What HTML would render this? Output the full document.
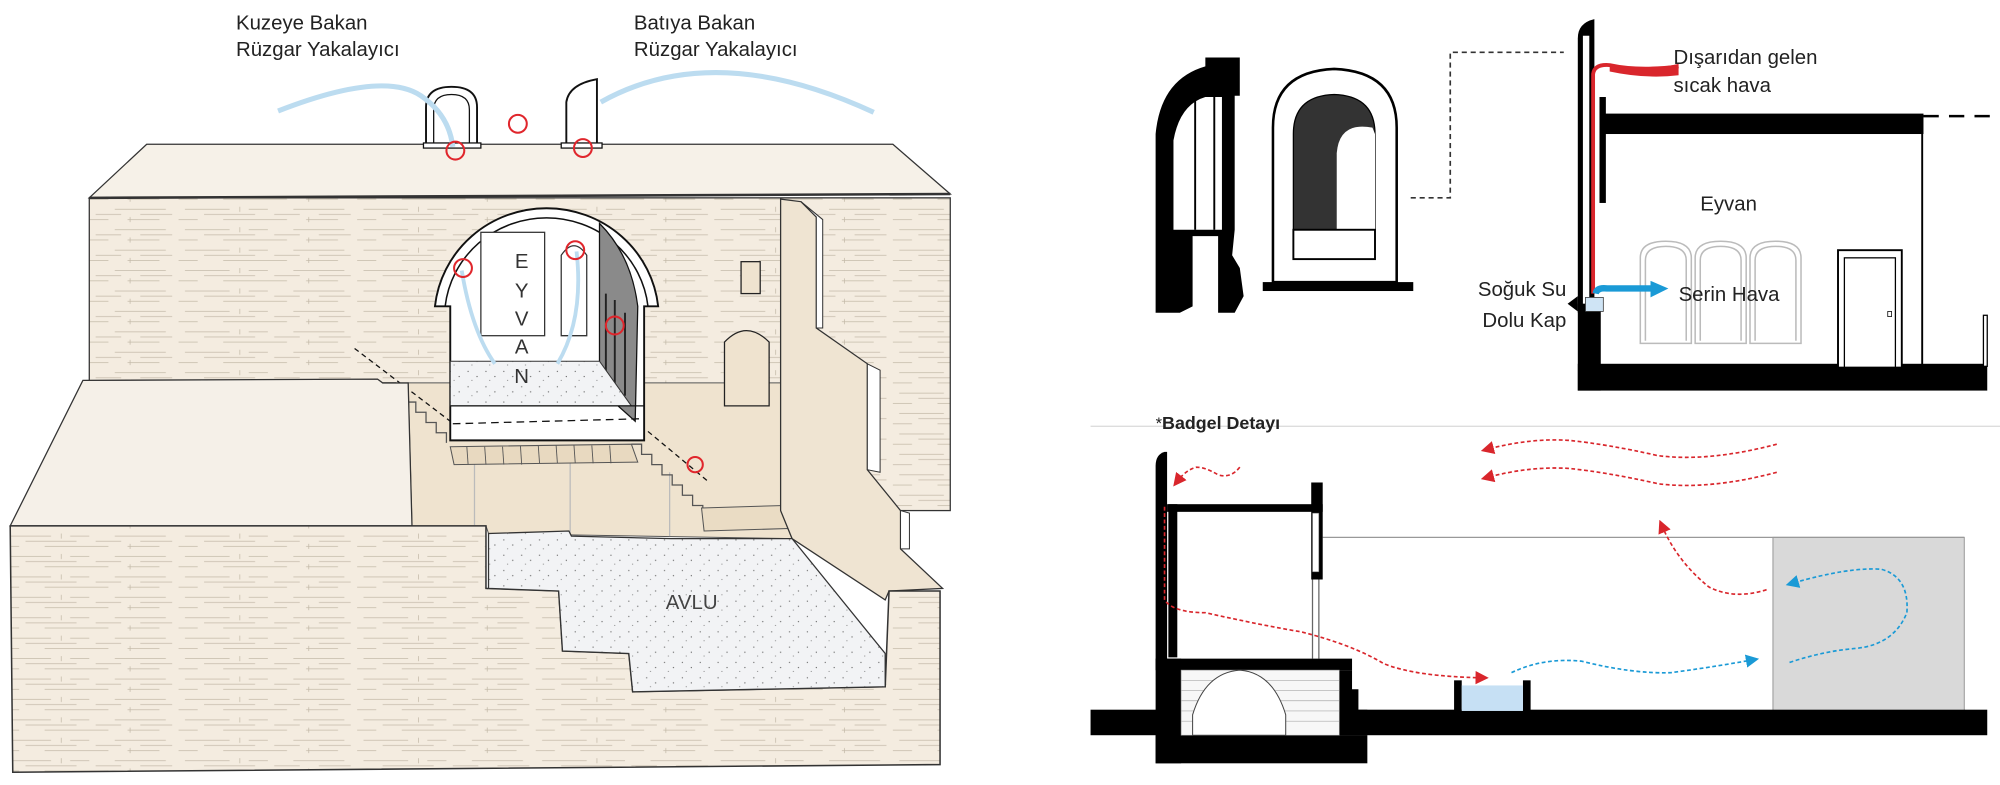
<!DOCTYPE html>
<html><head><meta charset="utf-8"><style>
html,body{margin:0;padding:0;background:#fff;}
svg{display:block;}
text{font-family:"Liberation Sans",sans-serif;}
</style></head><body>
<svg width="2000" height="785" viewBox="0 0 1568 615" preserveAspectRatio="none" xmlns="http://www.w3.org/2000/svg">
<defs>
<pattern id="brick" width="140" height="16" patternUnits="userSpaceOnUse">
<rect width="140" height="16" fill="#f4ece0"/>
<g stroke="#c4baa9" stroke-width="0.6">
<line x1="5" y1="4" x2="40" y2="4"/><line x1="55" y1="4" x2="70" y2="4"/><line x1="90" y1="4" x2="130" y2="4"/>
<line x1="20" y1="8" x2="60" y2="8"/><line x1="75" y1="8" x2="95" y2="8"/><line x1="110" y1="8" x2="135" y2="8"/>
<line x1="0" y1="12" x2="15" y2="12"/><line x1="35" y1="12" x2="85" y2="12"/><line x1="100" y1="12" x2="125" y2="12"/>
<line x1="48" y1="2" x2="48" y2="6"/><line x1="102" y1="10" x2="102" y2="14"/>
</g></pattern>
<pattern id="dots" width="14" height="12" patternUnits="userSpaceOnUse">
<rect width="14" height="12" fill="#f2f3f5"/>
<circle cx="3" cy="3" r="0.5" fill="#666"/><circle cx="10" cy="7" r="0.5" fill="#666"/><circle cx="6" cy="10" r="0.4" fill="#666"/>
</pattern>
<marker id="ar" markerWidth="8" markerHeight="8" refX="4" refY="4" orient="auto"><path d="M0,0 L8,4 L0,8 Z" fill="#d9262c"/></marker>
<marker id="ab" markerWidth="8" markerHeight="8" refX="4" refY="4" orient="auto"><path d="M0,0 L8,4 L0,8 Z" fill="#1a9ad6"/></marker>
</defs>

<text x="185" y="23" font-size="16" fill="#222">Kuzeye Bakan</text>
<text x="185" y="44" font-size="16" fill="#222">Rüzgar Yakalayıcı</text>
<text x="497" y="23" font-size="16" fill="#222">Batıya Bakan</text>
<text x="497" y="44" font-size="16" fill="#222">Rüzgar Yakalayıcı</text>

<polygon points="70,155 115,113 700,113 745,152" fill="#f6f1e8" stroke="#333" stroke-width="1"/>
<rect x="70" y="155" width="675" height="245" fill="url(#brick)" stroke="#333" stroke-width="1"/>
<line x1="70" y1="155" x2="745" y2="152" stroke="#333" stroke-width="2"/>

<path d="M334,114 L334,84 Q334,68 354,68 Q374,68 374,84 L374,114 Z" fill="#fff" stroke="#111" stroke-width="1.5"/>
<path d="M340,114 L340,86 Q340,74 354,74 Q368,74 368,86 L368,114" fill="none" stroke="#111" stroke-width="1"/>
<rect x="332" y="112" width="45" height="4" fill="#fff" stroke="#111"/>
<path d="M444,114 L444,80 Q446,66 468,62 L468,114 Z" fill="#fff" stroke="#111" stroke-width="1.5"/>
<rect x="440" y="112" width="32" height="4" fill="#fff" stroke="#111"/>
<path d="M218,87 Q300,55 330,75 Q352,90 355,115" fill="none" stroke="#bcdcf0" stroke-width="4"/>
<path d="M471,80 Q560,30 685,88" fill="none" stroke="#bcdcf0" stroke-width="4"/>
<g fill="none" stroke="#e0262c" stroke-width="1.6">
<circle cx="357" cy="118" r="7"/><circle cx="406" cy="97" r="7"/><circle cx="457" cy="116" r="7"/>
</g>

<polygon points="320,300 612,300 612,400 621,422 383,418 381,412 323,412" fill="#efe3cf" stroke="#555" stroke-width="0.8"/>
<line x1="372" y1="360" x2="372" y2="418" stroke="#bbb"/><line x1="447" y1="360" x2="447" y2="418" stroke="#bbb"/><line x1="525" y1="370" x2="525" y2="420" stroke="#bbb"/>

<path d="M341,240 A88,86 0 0 1 516,240 L505,240 L505,345 L353,345 L353,240 Z" fill="#fff" stroke="#111" stroke-width="1.5"/>
<path d="M349,240 A80,78 0 0 1 508,240" fill="none" stroke="#111" stroke-width="1.2"/>
<path d="M470,175 Q495,200 500,240 L498,330 L470,305 Z" fill="#8a8a8a" stroke="#111"/>
<rect x="377" y="182" width="50" height="81" fill="#fff" stroke="#333"/>
<path d="M440,263 L440,200 Q450,185 460,200 L460,263 Z" fill="#fff" stroke="#333"/>
<path d="M475,300 L475,230 M482,300 L482,235 M490,310 L490,245" stroke="#222" stroke-width="1.5"/>
<polygon points="353,283 470,283 495,318 353,318" fill="url(#dots)" stroke="#333" stroke-width="0.8"/>
<line x1="353" y1="318" x2="505" y2="318" stroke="#111"/>
<line x1="355" y1="332" x2="505" y2="328" stroke="#111" stroke-dasharray="6,4"/>
<g font-size="16" fill="#333" text-anchor="middle">
<text x="409" y="210">E</text><text x="409" y="233">Y</text><text x="409" y="255">V</text><text x="409" y="277">A</text><text x="409" y="300">N</text>
</g>
<path d="M362,212 Q370,260 388,285" fill="none" stroke="#bcdcf0" stroke-width="3"/>
<path d="M452,197 Q458,250 437,285" fill="none" stroke="#bcdcf0" stroke-width="3"/>
<line x1="278" y1="273" x2="353" y2="330" stroke="#111" stroke-dasharray="4,3"/>
<line x1="508" y1="338" x2="555" y2="377" stroke="#111" stroke-dasharray="4,3"/>
<g fill="none" stroke="#e0262c" stroke-width="1.6">
<circle cx="363" cy="210" r="7"/><circle cx="451" cy="196" r="7"/><circle cx="482" cy="255" r="7"/><circle cx="545" cy="364" r="6"/>
</g>
<polygon points="353,350 495,348 500,362 356,364" fill="#e8d9c0" stroke="#555" stroke-width="0.8"/>
<g stroke="#555" stroke-width="0.7">
<line x1="366" y1="350" x2="367" y2="364"/><line x1="380" y1="350" x2="381" y2="364"/><line x1="394" y1="350" x2="395" y2="364"/><line x1="408" y1="349" x2="409" y2="364"/><line x1="422" y1="349" x2="423" y2="363"/><line x1="436" y1="349" x2="437" y2="363"/><line x1="450" y1="349" x2="451" y2="363"/><line x1="464" y1="349" x2="465" y2="363"/><line x1="478" y1="349" x2="479" y2="363"/>
</g>
<path d="M300,300 L310,300 L310,307 L318,307 L318,315 L326,315 L326,323 L334,323 L334,331 L342,331 L342,339 L350,339 L350,347" fill="none" stroke="#555"/>
<path d="M495,348 L503,348 L503,356 L511,356 L511,364 L519,364 L519,372 L527,372 L527,380 L535,380 L535,388 L543,388 L543,396 L551,396 L551,404 L560,404" fill="none" stroke="#555"/>
<polygon points="550,398 615,396 621,414 552,416" fill="#eadcc4" stroke="#555" stroke-width="0.8"/>

<rect x="581" y="205" width="15" height="25" fill="#efe3cf" stroke="#222"/>
<path d="M568,318 L568,268 Q585,250 603,268 L603,318 Z" fill="#efe3cf" stroke="#222"/>

<polygon points="612,156 628,158 640,170 640,257 680,285 680,368 706,400 706,430 739,461 697,463 694,470 621,422 612,400" fill="#efe4d2" stroke="#333" stroke-width="1"/>
<polygon points="628,158 640,170 640,257 645,257 645,172" fill="#fff" stroke="#333" stroke-width="0.8"/>
<polygon points="680,285 690,290 690,370 680,368" fill="#fff" stroke="#333" stroke-width="0.8"/>
<polygon points="706,400 713,402 713,430 706,430" fill="#fff" stroke="#333" stroke-width="0.8"/>

<polygon points="8,412 65,298 296,297 300,300 320,300 323,412" fill="#f5f0e8" stroke="#333" stroke-width="1"/>
<polygon points="8,412 381,412 381,461 438,463 441,510 493,512 496,542 694,538 697,463 737,463 737,599 10,605" fill="url(#brick)" stroke="#333" stroke-width="1.2"/>
<polygon points="383,418 446,416 448,420 526,422 621,422 694,512 694,538 496,542 493,512 441,510 438,463 383,461" fill="url(#dots)" stroke="#333" stroke-width="1"/>
<text x="522" y="477" font-size="16" fill="#444">AVLU</text>

<path d="M906,245 L906,105 Q910,62 945,52 L945,45 L972,45 L972,75 L968,75 L968,180 L966,200 L972,210 L975,232 L968,245 L955,245 L955,185 L935,185 L935,240 L925,245 Z" fill="#000"/>
<path d="M920,180 L920,110 Q925,82 945,76 L958,76 L958,180 Z" fill="#fff"/>
<line x1="937" y1="76" x2="937" y2="180" stroke="#000" stroke-width="1.5"/>
<line x1="952" y1="76" x2="952" y2="180" stroke="#000" stroke-width="1.5"/>
<path d="M998,221 L998,100 Q998,56 1046,54 Q1095,56 1095,100 L1095,221 Z" fill="#fff" stroke="#000" stroke-width="2"/>
<path d="M1014,180 L1014,105 Q1014,75 1046,74 Q1078,75 1078,105 L1078,180 Z" fill="#333" stroke="#000"/>
<path d="M1048,180 L1048,120 Q1050,95 1076,100 L1078,105 L1078,180 Z" fill="#fff"/>
<rect x="1014" y="180" width="64" height="23" fill="#fff" stroke="#000" stroke-width="1.5"/>
<rect x="990" y="221" width="118" height="7" fill="#000"/>
<path d="M1106,155 L1137,155 L1137,41 L1226,41" fill="none" stroke="#333" stroke-width="1.3" stroke-dasharray="4,3"/>

<path d="M1237,245 L1237,30 Q1237,18 1250,15 L1250,245 Z" fill="#000"/>
<rect x="1241" y="28" width="5" height="210" fill="#fff"/>
<rect x="1237" y="238" width="18" height="68" fill="#000"/>
<rect x="1237" y="285" width="321" height="21" fill="#000"/>
<rect x="1254" y="76" width="5" height="83" fill="#000"/>
<rect x="1256" y="89" width="252" height="16" fill="#000"/>
<line x1="1508" y1="91" x2="1560" y2="91" stroke="#000" stroke-width="2" stroke-dasharray="12,8"/>
<line x1="1507" y1="105" x2="1507" y2="288" stroke="#000" stroke-width="1.5"/>
<rect x="1555" y="247" width="3" height="40" fill="#fff" stroke="#000"/>
<rect x="1441" y="196" width="50" height="92" fill="#fff" stroke="#000" stroke-width="1.5"/>
<rect x="1446" y="202" width="40" height="86" fill="none" stroke="#000" stroke-width="1"/>
<rect x="1480" y="244" width="3" height="4" fill="none" stroke="#000" stroke-width="0.6"/>
<g fill="none" stroke="#bbb" stroke-width="1.2">
<path d="M1286,269 L1286,202 Q1286,189 1306,189 Q1326,189 1326,202 L1326,269 Z"/><path d="M1290,267 L1290,204 Q1290,193 1306,193 Q1322,193 1322,204 L1322,267"/>
<path d="M1329,269 L1329,202 Q1329,189 1349,189 Q1369,189 1369,202 L1369,269 Z"/><path d="M1333,267 L1333,204 Q1333,193 1349,193 Q1365,193 1365,204 L1365,267"/>
<path d="M1372,269 L1372,202 Q1372,189 1392,189 Q1412,189 1412,202 L1412,269 Z"/><path d="M1376,267 L1376,204 Q1376,193 1392,193 Q1408,193 1408,204 L1408,267"/>
</g>
<rect x="1243" y="233" width="14" height="11" fill="#cfe4f5" stroke="#333" stroke-width="0.6"/>
<path d="M1249,230 L1249,58 Q1250,50 1262,51 Q1285,56 1316,52" fill="none" stroke="#d9262c" stroke-width="3"/>
<path d="M1262,50 Q1290,56 1316,50 L1316,59 Q1290,62 1262,56 Z" fill="#d9262c"/>
<path d="M1251,230 Q1252,225 1260,226 L1296,226" fill="none" stroke="#1a9ad6" stroke-width="5"/>
<path d="M1294,220 L1308,226 L1294,233 Z" fill="#1a9ad6"/>
<path d="M1237,232 L1229,238 L1237,244 Z" fill="#000"/>
<g font-size="16" fill="#222">
<text x="1312" y="50">Dışarıdan gelen</text>
<text x="1312" y="72">sıcak hava</text>
<text x="1333" y="165">Eyvan</text>
<text x="1316" y="236">Serin Hava</text>
<text x="1228" y="232" text-anchor="end">Soğuk Su</text>
<text x="1228" y="256" text-anchor="end">Dolu Kap</text>
</g>

<line x1="855" y1="334" x2="1568" y2="334" stroke="#ddd" stroke-width="1"/>
<text x="906" y="336" font-size="13" fill="#222">*<tspan font-weight="bold" font-size="14">Badgel Detayı</tspan></text>

<rect x="1390" y="421" width="150" height="137" fill="#d9d9d9" stroke="#999" stroke-width="0.8"/>
<line x1="1037" y1="421" x2="1540" y2="421" stroke="#999" stroke-width="1"/>
<path d="M906,525 L906,365 Q906,356 913,354 L915,354 L915,525 Z" fill="#000"/>
<rect x="915" y="395" width="122" height="6" fill="#000"/>
<rect x="916" y="395" width="7" height="120" fill="#000"/>
<rect x="1028" y="378" width="9" height="76" fill="#000"/>
<rect x="1029" y="402" width="5" height="46" fill="#fff" stroke="#666" stroke-width="0.4"/>
<line x1="1034" y1="454" x2="1034" y2="516" stroke="#666"/>
<line x1="1029" y1="454" x2="1029" y2="516" stroke="#666"/>
<rect x="855" y="556" width="703" height="20" fill="#000"/>
<rect x="906" y="516" width="20" height="82" fill="#000"/>
<rect x="906" y="576" width="166" height="22" fill="#000"/>
<rect x="906" y="516" width="154" height="9" fill="#000"/>
<polygon points="1050,525 1060,525 1060,540 1065,540 1065,556 1072,556 1072,576 1040,576" fill="#000"/>
<rect x="926" y="525" width="124" height="51" fill="#f7f7f7" stroke="#999" stroke-width="0.5"/>
<g stroke="#aaa" stroke-width="0.5">
<line x1="926" y1="533" x2="1050" y2="533"/><line x1="926" y1="541" x2="1050" y2="541"/><line x1="926" y1="549" x2="1050" y2="549"/><line x1="926" y1="557" x2="1050" y2="557"/><line x1="926" y1="565" x2="1050" y2="565"/>
</g>
<path d="M935,576 L935,560 Q945,527 972,525 Q998,527 1008,560 L1008,576 Z" fill="#fff" stroke="#444" stroke-width="0.8"/>
<rect x="1140" y="533" width="6" height="25" fill="#000"/>
<rect x="1194" y="533" width="6" height="25" fill="#000"/>
<rect x="1146" y="537" width="48" height="20" fill="#c6e0f4"/>

<g fill="none" stroke="#d9262c" stroke-width="1.3" stroke-dasharray="3,2">
<path d="M1393,348 Q1340,362 1300,357 Q1260,348 1230,345 Q1200,343 1166,352" marker-end="url(#ar)"/>
<path d="M1393,370 Q1340,384 1300,379 Q1260,370 1230,367 Q1200,365 1166,374" marker-end="url(#ar)"/>
<path d="M972,366 Q965,375 955,372 Q945,366 938,366 Q930,368 923,377" marker-end="url(#ar)"/>
<path d="M913,397 L913,470 Q920,480 945,480 Q990,490 1020,495 Q1060,505 1085,520 Q1110,530 1162,531" marker-end="url(#ar)"/>
<path d="M1385,462 Q1360,470 1340,460 Q1315,440 1303,412" marker-end="url(#ar)"/>
</g>
<g fill="none" stroke="#1a9ad6" stroke-width="1.3" stroke-dasharray="3,2">
<path d="M1185,527 Q1210,515 1240,518 Q1280,528 1310,527 Q1340,523 1374,517" marker-end="url(#ab)"/>
<path d="M1403,519 Q1430,510 1455,508 Q1485,505 1495,480 Q1497,452 1475,446 Q1450,444 1405,457" marker-end="url(#ab)"/>
</g>
</svg>
</body></html>
